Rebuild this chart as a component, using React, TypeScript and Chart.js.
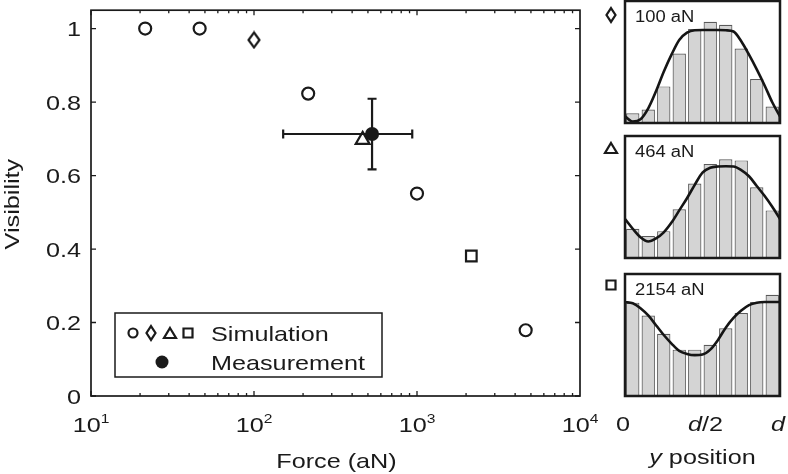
import React, { useEffect, useRef } from 'react';
import { Chart, registerables } from 'chart.js';
Chart.register(...registerables);

// ---------- main chart data ----------
const simForce = [21.5, 46.4, 100, 215, 464, 1000, 2154, 4642];
const simVisibility = [1.0, 1.0, 0.969, 0.823, 0.697, 0.551, 0.381, 0.179];
const simMarker = ['circle', 'circle', 'diamond', 'circle', 'triangle', 'circle', 'square', 'circle'];
const measForce = [530];
const measVisibility = [0.713];
const measForceLow = [151];
const measForceHigh = [935];
const measVisLow = [0.617];
const measVisHigh = [0.809];
const yTicks = [0, 0.2, 0.4, 0.6, 0.8, 1];
const yTickLabels = ['0', '0.2', '0.4', '0.6', '0.8', '1'];
const xDecades = [10, 100, 1000, 10000];
const xExponents = ['1', '2', '3', '4'];
const legendLabels = ['Simulation', 'Measurement'];

// ---------- histogram panels data ----------
const binCenters = [0.05, 0.15, 0.25, 0.35, 0.45, 0.55, 0.65, 0.75, 0.85, 0.95];
const hist100 = [0.08, 0.11, 0.3, 0.57, 0.77, 0.83, 0.805, 0.61, 0.36, 0.135];
const hist464 = [0.24, 0.18, 0.22, 0.4, 0.61, 0.77, 0.81, 0.8, 0.58, 0.39];
const hist2154 = [0.765, 0.66, 0.51, 0.38, 0.38, 0.42, 0.555, 0.68, 0.77, 0.83];
const fitPos = [0, 0.05, 0.1, 0.15, 0.2, 0.25, 0.3, 0.35, 0.4, 0.45, 0.5, 0.55, 0.6, 0.65, 0.7, 0.75, 0.8, 0.85, 0.9, 0.95, 1];
const fit100 = [0.054, 0.012, 0.03, 0.12, 0.26, 0.42, 0.56, 0.68, 0.74, 0.76, 0.762, 0.762, 0.762, 0.76, 0.75, 0.67, 0.56, 0.44, 0.31, 0.17, 0.054];
const fit464 = [0.32, 0.24, 0.17, 0.135, 0.16, 0.21, 0.29, 0.39, 0.49, 0.6, 0.7, 0.74, 0.75, 0.752, 0.75, 0.72, 0.67, 0.59, 0.51, 0.42, 0.32];
const fit2154 = [0.77, 0.76, 0.72, 0.66, 0.58, 0.5, 0.43, 0.37, 0.345, 0.335, 0.34, 0.38, 0.46, 0.56, 0.64, 0.7, 0.745, 0.765, 0.77, 0.77, 0.77];
const panelLabels = ['100 aN', '464 aN', '2154 aN'];
const panelMarkers = ['diamond', 'triangle', 'square'];
const posTickValues = [0, 0.5, 1];

const FONT = '"Liberation Sans", Arial, Helvetica, sans-serif';
const INK = '#1a1a1a';

type Run = { t: string; size: number; italic?: boolean; dy?: number };

function drawRuns(ctx: CanvasRenderingContext2D, runs: Run[], x: number, y: number, align: string, rot = 0, sx = 1.2) {
  ctx.save();
  ctx.translate(x, y);
  if (rot) ctx.rotate(rot);
  ctx.scale(sx, 1);
  ctx.fillStyle = INK;
  ctx.textBaseline = 'alphabetic';
  ctx.textAlign = 'left';
  const widths = runs.map((r) => {
    ctx.font = `${r.italic ? 'italic ' : ''}${r.size}px ${FONT}`;
    return ctx.measureText(r.t).width;
  });
  const total = widths.reduce((a, b) => a + b, 0);
  let start = align === 'center' ? -total / 2 : align === 'right' ? -total : 0;
  runs.forEach((r, i) => {
    ctx.font = `${r.italic ? 'italic ' : ''}${r.size}px ${FONT}`;
    ctx.fillText(r.t, start, r.dy || 0);
    start += widths[i];
  });
  ctx.restore();
}

function drawMarker(ctx: CanvasRenderingContext2D, type: string, x: number, y: number, s: number, filled = false) {
  ctx.save();
  ctx.strokeStyle = INK;
  ctx.fillStyle = INK;
  ctx.lineWidth = 2.2;
  ctx.beginPath();
  if (type === 'circle') {
    ctx.arc(x, y, s / 2 - 1, 0, Math.PI * 2);
  } else if (type === 'diamond') {
    const w = s - 2, h = s * 1.25;
    ctx.moveTo(x, y - h / 2);
    ctx.lineTo(x + w / 2, y);
    ctx.lineTo(x, y + h / 2);
    ctx.lineTo(x - w / 2, y);
    ctx.closePath();
  } else if (type === 'triangle') {
    const w = s + 1, h = s - 1;
    ctx.moveTo(x, y - h / 2);
    ctx.lineTo(x + w / 2, y + h / 2);
    ctx.lineTo(x - w / 2, y + h / 2);
    ctx.closePath();
  } else if (type === 'square') {
    const w = s - 2;
    ctx.rect(x - w / 2, y - w / 2, w, w);
  }
  if (filled) ctx.fill();
  else ctx.stroke();
  ctx.restore();
}

function makeDiamondImage() {
  const c = document.createElement('canvas');
  c.width = 16;
  c.height = 19;
  const g = c.getContext('2d')!;
  g.strokeStyle = INK;
  g.lineWidth = 2.2;
  const cx = c.width / 2, cy = c.height / 2;
  g.beginPath();
  g.moveTo(cx, cy - 7.5);
  g.lineTo(cx + 5.5, cy);
  g.lineTo(cx, cy + 7.5);
  g.lineTo(cx - 5.5, cy);
  g.closePath();
  g.stroke();
  return c;
}

const mainPlugin = {
  id: 'mainDecor',
  beforeDatasetsDraw(chart: any) {
    const { ctx, scales } = chart;
    const x = scales.x, y = scales.y;
    ctx.save();
    ctx.strokeStyle = INK;
    ctx.lineWidth = 2.2;
    measForce.forEach((f, i) => {
      const px = x.getPixelForValue(f);
      const py = y.getPixelForValue(measVisibility[i]);
      const xl = x.getPixelForValue(measForceLow[i]);
      const xr = x.getPixelForValue(measForceHigh[i]);
      const yt = y.getPixelForValue(measVisHigh[i]);
      const yb = y.getPixelForValue(measVisLow[i]);
      ctx.beginPath();
      ctx.moveTo(xl, py); ctx.lineTo(xr, py);
      ctx.moveTo(xl, py - 4.5); ctx.lineTo(xl, py + 4.5);
      ctx.moveTo(xr, py - 4.5); ctx.lineTo(xr, py + 4.5);
      ctx.moveTo(px, yt); ctx.lineTo(px, yb);
      ctx.moveTo(px - 4.5, yt); ctx.lineTo(px + 4.5, yt);
      ctx.moveTo(px - 4.5, yb); ctx.lineTo(px + 4.5, yb);
      ctx.stroke();
    });
    ctx.restore();
  },
  afterDraw(chart: any) {
    const { ctx, chartArea: a, scales } = chart;
    const x = scales.x, y = scales.y;
    ctx.save();
    ctx.strokeStyle = INK;
    ctx.lineWidth = 1.7;
    ctx.strokeRect(a.left, a.top, a.right - a.left, a.bottom - a.top);
    ctx.lineWidth = 1.3;
    ctx.beginPath();
    yTicks.forEach((v) => {
      const py = y.getPixelForValue(v);
      ctx.moveTo(a.left, py); ctx.lineTo(a.left + 5, py);
      ctx.moveTo(a.right, py); ctx.lineTo(a.right - 5, py);
    });
    for (let d = 10; d < 10000; d *= 10) {
      for (let m = 1; m <= 9; m++) {
        const px = x.getPixelForValue(d * m);
        const len = m === 1 ? 5 : 3;
        ctx.moveTo(px, a.bottom); ctx.lineTo(px, a.bottom - len);
        ctx.moveTo(px, a.top); ctx.lineTo(px, a.top + len);
      }
    }
    ctx.stroke();
    yTicks.forEach((v, i) => {
      const py = y.getPixelForValue(v);
      drawRuns(ctx, [{ t: yTickLabels[i], size: 21 }], a.left - 10, py + 7.5, 'right');
    });
    xDecades.forEach((v, i) => {
      const px = x.getPixelForValue(v);
      drawRuns(ctx, [{ t: '10', size: 21 }, { t: xExponents[i], size: 13, dy: -9 }], px, 432, 'center');
    });
    drawRuns(ctx, [{ t: 'Force (aN)', size: 21 }], (a.left + a.right) / 2 + 1, 468, 'center');
    drawRuns(ctx, [{ t: 'Visibility', size: 21 }], 19, (a.top + a.bottom) / 2 + 1, 'center', -Math.PI / 2);

    // legend
    ctx.fillStyle = '#fff';
    ctx.fillRect(115, 313, 267, 64);
    ctx.lineWidth = 1.5;
    ctx.strokeStyle = INK;
    ctx.strokeRect(115, 313, 267, 64);
    drawMarker(ctx, 'circle', 133, 333, 11);
    drawMarker(ctx, 'diamond', 151, 333, 11);
    drawMarker(ctx, 'triangle', 170, 333, 11);
    drawMarker(ctx, 'square', 188, 333, 11);
    drawRuns(ctx, [{ t: legendLabels[0], size: 21 }], 211, 340.5, 'left');
    ctx.fillStyle = INK;
    ctx.beginPath();
    ctx.arc(162, 362, 6.5, 0, Math.PI * 2);
    ctx.fill();
    drawRuns(ctx, [{ t: legendLabels[1], size: 21 }], 211, 369.5, 'left');
    ctx.restore();
  },
};

function panelPlugin(idx: number) {
  return {
    id: 'panelDecor' + idx,
    afterDraw(chart: any) {
      const { ctx, chartArea: a, scales } = chart;
      ctx.save();
      ctx.strokeStyle = INK;
      ctx.lineWidth = 2.5;
      ctx.strokeRect(a.left, a.top, a.right - a.left, a.bottom - a.top);
      drawRuns(ctx, [{ t: panelLabels[idx], size: 16 }], a.left + 10, a.top + 21, 'left', 0, 1.15);
      drawMarker(ctx, panelMarkers[idx], a.left - 14, a.top + (idx === 0 ? 14 : idx === 1 ? 12 : 11), 11);
      if (idx === 2) {
        const x = scales.x;
        const base = a.bottom + 34.5;
        drawRuns(ctx, [{ t: '0', size: 21 }], x.getPixelForValue(posTickValues[0]) - 2, base, 'center');
        drawRuns(ctx, [{ t: 'd', size: 21, italic: true }, { t: '/2', size: 21 }], x.getPixelForValue(posTickValues[1]) + 3, base, 'center');
        drawRuns(ctx, [{ t: 'd', size: 21, italic: true }], x.getPixelForValue(posTickValues[2]) - 2, base, 'center');
        drawRuns(ctx, [{ t: 'y', size: 21, italic: true }, { t: ' position', size: 21 }], (a.left + a.right) / 2, a.bottom + 68, 'center');
      }
      ctx.restore();
    },
  };
}

function panelConfig(idx: number, hist: number[], fit: number[], padTop: number, padBottom: number): any {
  return {
    type: 'bar',
    data: {
      datasets: [
        {
          type: 'line',
          data: fitPos.map((p, i) => ({ x: p, y: fit[i] })),
          borderColor: '#151515',
          borderWidth: 2.6,
          pointRadius: 0,
          tension: 0.4,
          cubicInterpolationMode: 'monotone',
          fill: false,
          order: 0,
        },
        {
          type: 'bar',
          data: binCenters.map((p, i) => ({ x: p, y: hist[i] })),
          backgroundColor: '#d4d4d4',
          borderColor: '#5a5a5a',
          borderWidth: 1.2,
          borderSkipped: 'bottom',
          barPercentage: 0.86,
          categoryPercentage: 1,
          order: 1,
        },
      ],
    },
    options: {
      responsive: false,
      animation: false,
      events: [],
      devicePixelRatio: 1,
      layout: { padding: { left: 35, right: 8, top: padTop, bottom: padBottom } },
      plugins: { legend: { display: false }, tooltip: { enabled: false } },
      scales: {
        x: { type: 'linear', min: 0, max: 1, offset: false, display: false },
        y: { type: 'linear', min: 0, max: 1, display: false },
      },
    },
    plugins: [panelPlugin(idx)],
  };
}

export default function App() {
  const mainRef = useRef<HTMLCanvasElement>(null);
  const p1Ref = useRef<HTMLCanvasElement>(null);
  const p2Ref = useRef<HTMLCanvasElement>(null);
  const p3Ref = useRef<HTMLCanvasElement>(null);

  useEffect(() => {
    const diamond = makeDiamondImage();
    const styles = simMarker.map((m) => (m === 'diamond' ? diamond : m === 'square' ? 'rect' : m));
    const radii = simMarker.map((m) => (m === 'circle' ? 6 : m === 'triangle' ? 8 : m === 'square' ? 7.5 : 7));
    const main = new Chart(mainRef.current!, {
      type: 'scatter',
      data: {
        datasets: [
          {
            data: simForce.map((f, i) => ({ x: f, y: simVisibility[i] })),
            pointStyle: styles as any,
            pointRadius: radii,
            borderColor: INK,
            backgroundColor: 'rgba(0,0,0,0)',
            borderWidth: 2.2,
          },
          {
            data: measForce.map((f, i) => ({ x: f, y: measVisibility[i] })),
            pointStyle: 'circle',
            pointRadius: 7,
            borderColor: INK,
            backgroundColor: INK,
            borderWidth: 0,
          },
        ],
      },
      options: {
        responsive: false,
        animation: false,
        events: [],
        devicePixelRatio: 1,
        layout: { padding: { left: 91, right: 208, top: 1, bottom: 78 } },
        plugins: { legend: { display: false }, tooltip: { enabled: false } },
        scales: {
          x: { type: 'logarithmic', min: 10, max: 10000, display: false },
          y: { type: 'linear', min: 0, max: 1.05, display: false },
        },
      } as any,
      plugins: [mainPlugin as any],
    });
    const c1 = new Chart(p1Ref.current!, panelConfig(0, hist100, fit100, 1, 7));
    const c2 = new Chart(p2Ref.current!, panelConfig(1, hist464, fit464, 6, 7));
    const c3 = new Chart(p3Ref.current!, panelConfig(2, hist2154, fit2154, 9, 78));
    return () => {
      main.destroy();
      c1.destroy();
      c2.destroy();
      c3.destroy();
    };
  }, []);

  const abs = (left: number, top: number): React.CSSProperties => ({ position: 'absolute', left, top });

  return (
    <div style={{ position: 'fixed', left: 0, top: 0, width: 788, height: 474, background: '#fff', overflow: 'hidden' }}>
      <canvas ref={mainRef} width={788} height={474} style={abs(0, 0)} />
      <canvas ref={p1Ref} width={198} height={130} style={abs(590, 0)} />
      <canvas ref={p2Ref} width={198} height={135} style={abs(590, 130)} />
      <canvas ref={p3Ref} width={198} height={209} style={abs(590, 265)} />
    </div>
  );
}
